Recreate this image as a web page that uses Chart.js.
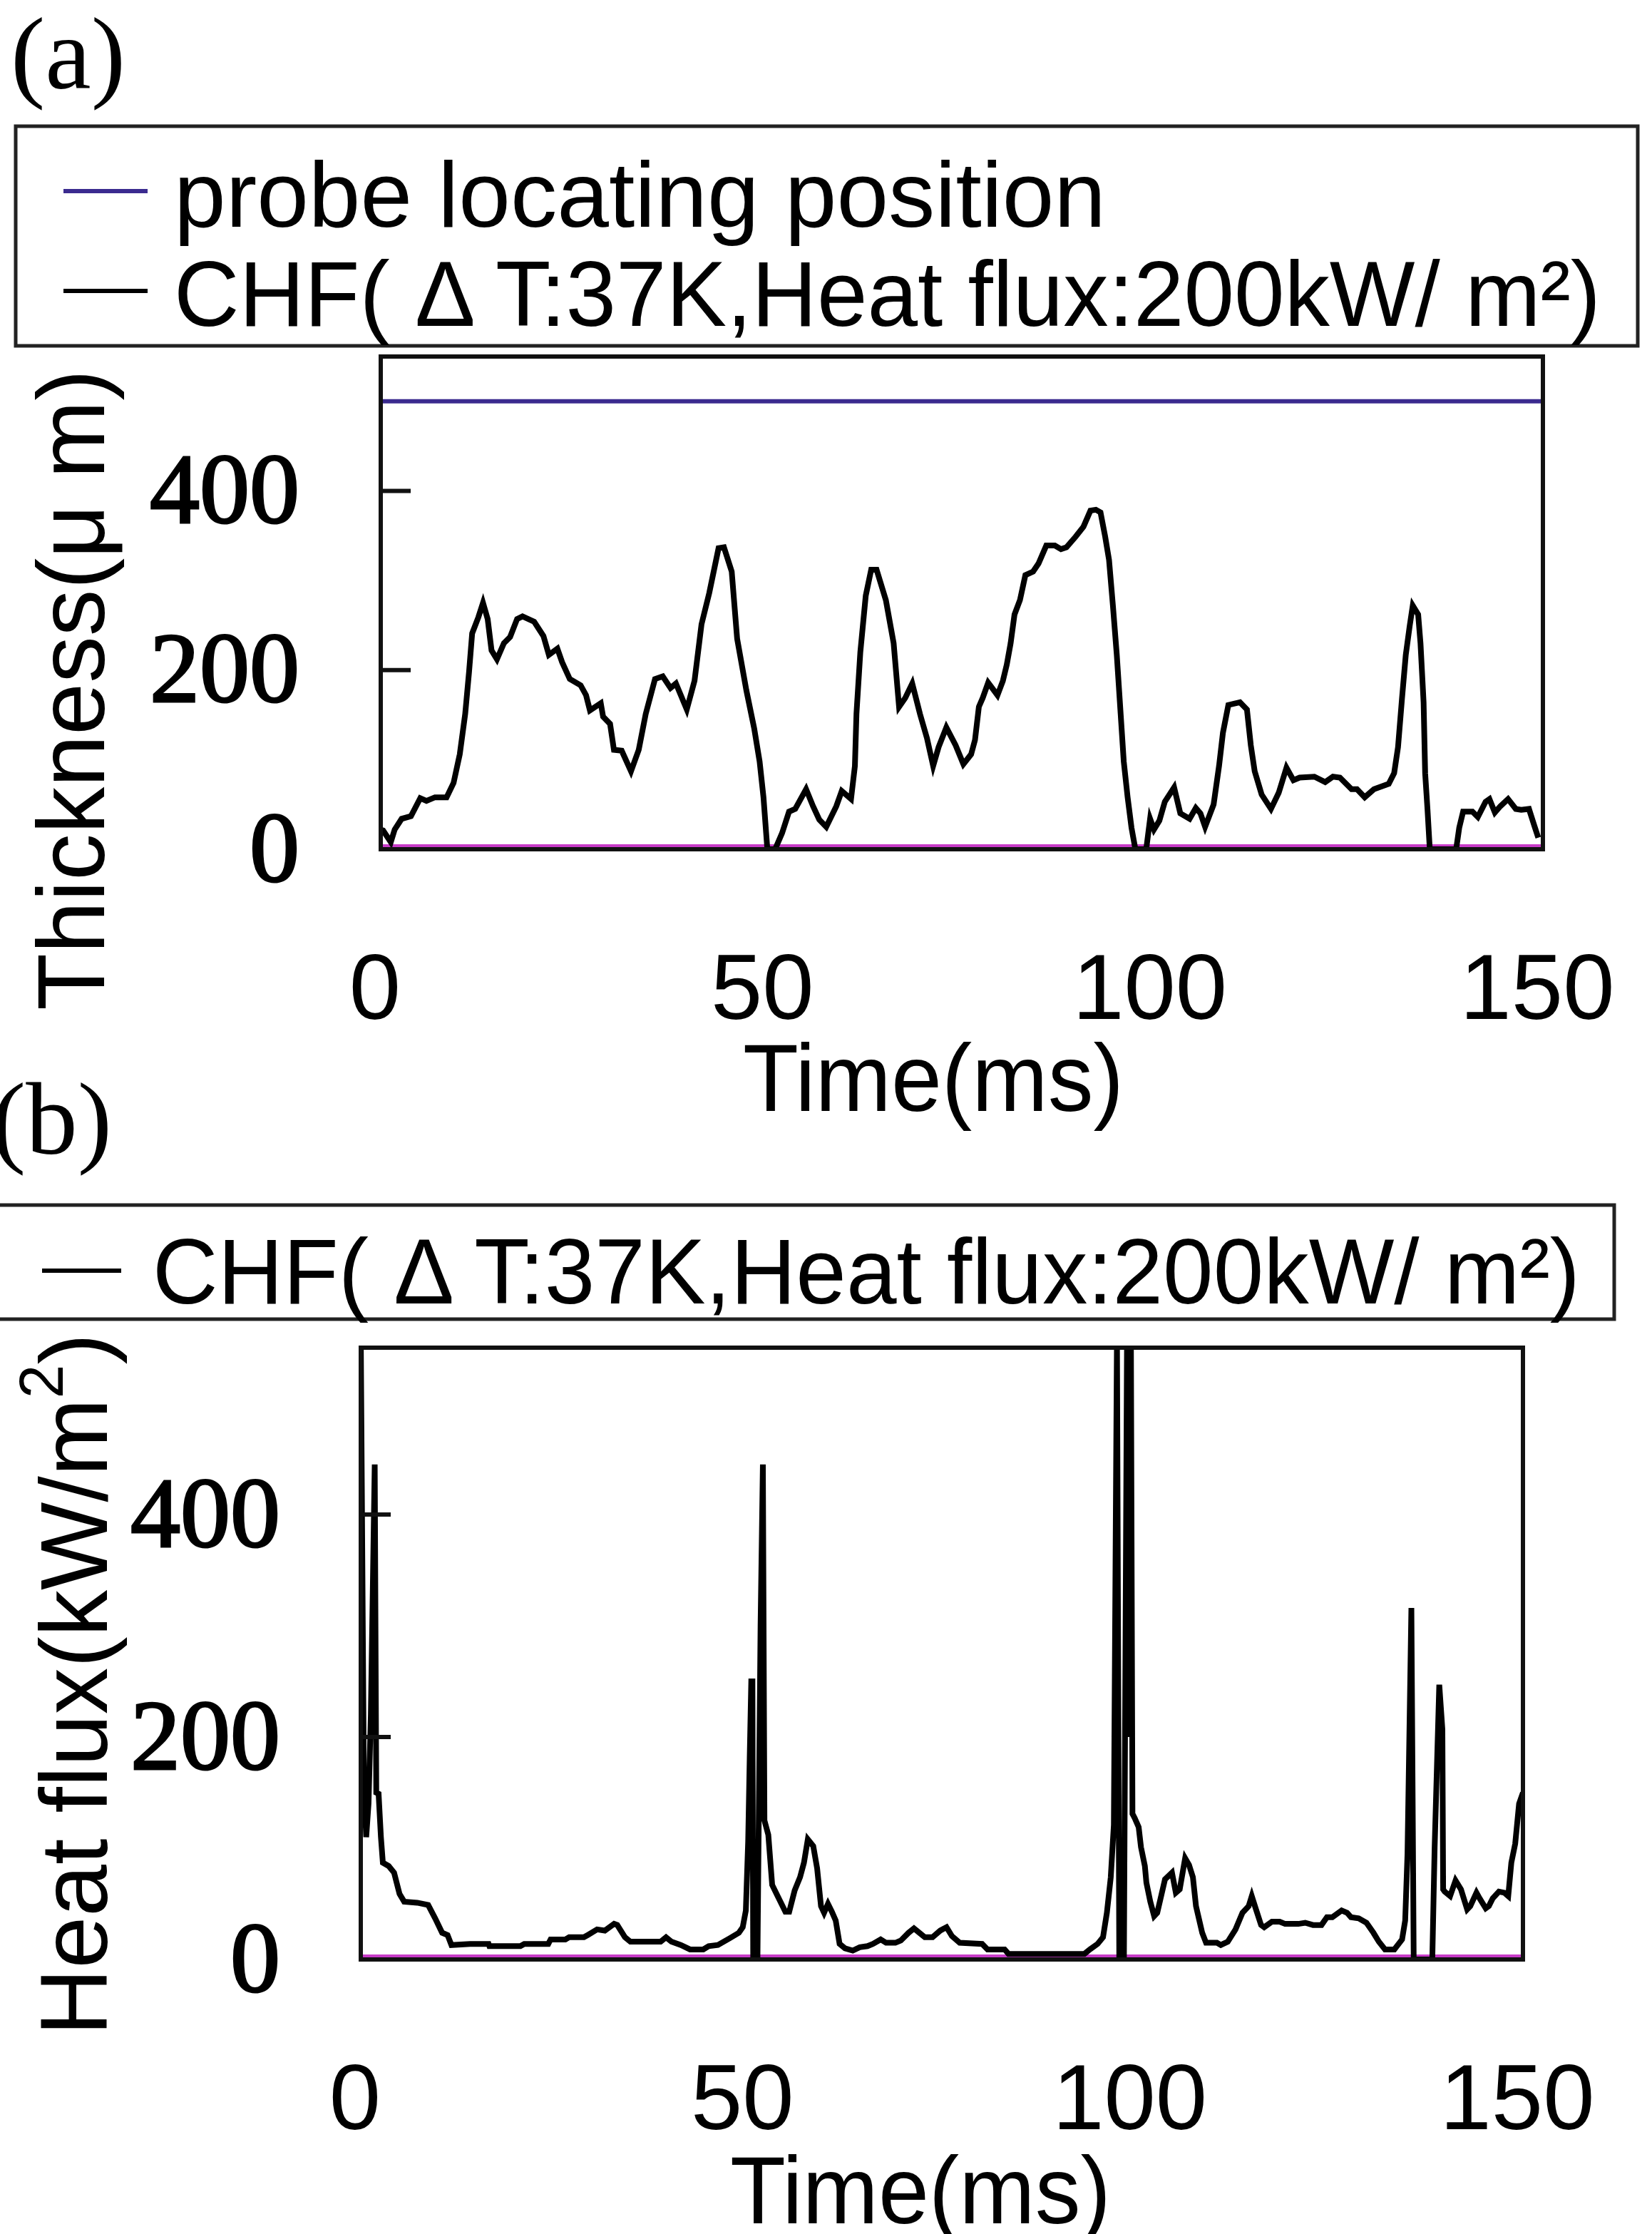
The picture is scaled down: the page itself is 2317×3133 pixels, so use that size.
<!DOCTYPE html>
<html>
<head>
<meta charset="utf-8">
<script src="https://cdn.jsdelivr.net/npm/chart.js@4.4.1/dist/chart.umd.min.js"></script>
<style>
  html, body { margin: 0; padding: 0; background: #fff; }
  body { width: 2317px; height: 3133px; position: relative; overflow: hidden; }
  canvas { position: absolute; left: 0; }
  #panelA { top: 400px; }
  #panelB { top: 1850px; }
  svg { position: absolute; left: 0; top: 0; }
  svg text { font-family: "Liberation Sans", Arial, sans-serif; fill: #000; }
  svg text.serif { font-family: "Liberation Serif", "Times New Roman", serif; }
</style>
</head>
<body>
<canvas id="panelA" width="2317" height="1100"></canvas>
<canvas id="panelB" width="2317" height="1283"></canvas>
<svg width="2317" height="3133" viewBox="0 0 2317 3133">
  <!-- panel (a) header and legend -->
  <text class="serif" x="15" y="124" font-size="145">(a)</text>
  <rect x="22" y="177" width="2275" height="308" fill="none" stroke="#222" stroke-width="5"/>
  <line x1="89" y1="268" x2="207" y2="268" stroke="#3b2b8f" stroke-width="6"/>
  <text id="legA1" x="244" y="318" font-size="130" textLength="1307" lengthAdjust="spacingAndGlyphs"></text>
  <line x1="89" y1="408" x2="207" y2="408" stroke="#000" stroke-width="6"/>
  <text id="legA2" x="244" y="457" font-size="130" textLength="2001" lengthAdjust="spacingAndGlyphs"></text>
  <!-- panel (a) axis titles -->
  <text id="yTitleA" transform="translate(146,1417) rotate(-90)" font-size="134" textLength="899" lengthAdjust="spacingAndGlyphs"></text>
  <text id="xTitleA" x="1042" y="1558" font-size="133" textLength="534" lengthAdjust="spacingAndGlyphs"></text>

  <!-- panel (b) header and legend -->
  <text class="serif" x="-12" y="1618" font-size="145">(b)</text>
  <rect x="-10" y="1690" width="2274" height="160" fill="none" stroke="#222" stroke-width="5"/>
  <line x1="59" y1="1782" x2="170" y2="1782" stroke="#000" stroke-width="6"/>
  <text id="legB1" x="214" y="1828" font-size="130" textLength="2002" lengthAdjust="spacingAndGlyphs"></text>
  <!-- panel (b) axis titles -->
  <text transform="translate(150,2855) rotate(-90)" font-size="133" textLength="985" lengthAdjust="spacingAndGlyphs">Heat flux(kW/m<tspan font-size="87" dy="-62">2</tspan><tspan dy="62">)</tspan></text>
  <text id="xTitleB" x="1024" y="3118" font-size="133" textLength="534" lengthAdjust="spacingAndGlyphs"></text>
</svg>

<script>
// ---- series: liquid film thickness (µm) against time (ms) ----
const thicknessTime = [
  0.0, 0.3, 1.3, 1.8, 2.7, 3.9, 5.1, 5.9, 7.0, 8.5, 9.4, 10.2, 10.9, 11.4, 11.8, 12.6, 13.2, 13.8,
  14.3, 15.0, 15.9, 16.7, 17.6, 18.3, 19.8, 21.0, 21.7, 22.8, 23.4, 24.4, 25.8, 26.5, 27.0, 28.4,
  28.7, 29.6, 30.1, 31.1, 32.3, 33.3, 34.2, 35.4, 36.4, 37.4, 38.1, 39.5, 40.5, 41.4, 42.4, 43.6,
  44.3, 45.3, 46.0, 47.2, 48.2, 48.9, 49.4, 49.9, 50.9, 51.8, 52.7, 53.5, 54.9, 55.8, 56.6, 57.5,
  58.8, 59.5, 60.7, 61.2, 61.4, 61.9, 62.6, 63.3, 64.0, 65.2, 66.2, 66.9, 67.7, 68.6, 69.6, 70.5,
  71.3, 72.0, 73.0, 74.2, 75.2, 76.2, 76.7, 77.2, 77.7, 78.4, 79.6, 80.3, 80.8, 81.3, 81.8, 82.5,
  83.2, 84.2, 84.9, 85.9, 87.0, 87.8, 88.5, 89.7, 90.7, 91.6, 92.3, 92.9, 93.5, 94.0, 94.5, 95.0,
  95.5, 95.9, 96.4, 96.9, 97.4, 98.8, 99.3, 99.8, 100.5, 101.2, 102.4, 103.2, 104.4, 105.2, 105.8,
  106.4, 107.5, 108.2, 108.7, 109.4, 110.9, 111.8, 112.3, 112.8, 113.7, 114.9, 115.9, 116.9, 117.8,
  118.6, 120.5, 121.9, 122.9, 123.8, 125.3, 126.0, 127.0, 128.2, 130.1, 130.8, 131.3, 131.8, 132.3,
  132.8, 133.2, 133.9, 134.2, 134.6, 134.8, 135.1, 135.4, 138.8, 139.2, 139.7, 140.9, 141.6, 142.6,
  143.1, 143.8, 144.5, 145.5, 146.5, 147.2, 148.2, 148.9, 149.4
];
const thicknessValues = [
  22, 21, 8, 22, 34, 37, 57, 54, 58, 58, 74, 106, 151, 198, 241, 259, 275, 257,
  222, 212, 230, 237, 257, 260, 254, 238, 217, 224, 209, 190, 183, 172, 155, 163,
  148, 140, 111, 110, 87, 111, 151, 190, 193, 180, 185, 156, 188, 251, 286, 336,
  337, 310, 235, 177, 135, 98, 58, 0, 0, 18, 42, 45, 67, 48, 33, 25,
  48, 65, 56, 93, 151, 220, 283, 312, 312, 278, 230, 159, 169, 185, 151, 124,
  93, 114, 136, 116, 95, 106, 122, 159, 169, 186, 172, 188, 206, 230, 262, 278,
  306, 310, 319, 339, 339, 335, 337, 349, 360, 378, 379, 376, 349, 323, 272, 217,
  151, 98, 58, 24, 0, 0, 34, 22, 32, 53, 69, 40, 34, 46, 40,
  25, 50, 93, 130, 161, 164, 156, 116, 87, 61, 45, 63, 91, 77,
  80, 81, 75, 81, 80, 67, 67, 58, 67, 73, 85, 114, 167, 217,
  249, 272, 262, 230, 164, 85, 45, 0, 0, 24, 42, 42, 36, 53,
  56, 41, 48, 56, 45, 44, 45, 26, 13
];

// ---- series: probe locating position (µm) ----
const probeTime = [0, 150];
const probeValues = [500, 500];

// ---- series: wall heat flux (kW/m²) against time (ms) ----
const fluxTime = [
  0.0, 0.4, 0.7, 1.0, 1.3, 1.8, 2.0, 2.3, 2.6, 2.85, 3.6, 4.3, 5.0, 5.6, 7.3, 8.7, 9.6, 10.5,
  11.2, 11.7, 14.1, 16.5, 16.6, 20.6, 21.1, 24.2, 24.5, 26.4, 26.9, 28.8, 29.3, 30.5, 31.5, 32.7,
  33.1, 34.1, 34.8, 38.7, 39.4, 40.1, 41.3, 42.5, 44.2, 44.9, 46.1, 47.6, 48.8, 49.3, 49.7, 50.0,
  50.2, 50.4, 50.55, 50.65, 51.2, 51.6, 51.9, 52.1, 52.6, 53.1, 53.8, 54.8, 55.3, 56.0, 56.7, 57.2,
  57.7, 58.4, 58.9, 59.4, 59.8, 60.3, 60.8, 61.3, 61.8, 62.5, 63.5, 64.4, 65.4, 66.1, 67.1, 67.8,
  69.0, 69.7, 70.7, 71.4, 72.1, 72.8, 73.8, 74.8, 75.6, 76.3, 77.3, 80.2, 80.9, 83.1, 83.6, 93.4,
  94.1, 95.1, 95.8, 96.3, 96.8, 97.2, 97.6, 97.9, 98.5, 98.9, 99.2, 99.4, 99.6, 99.9, 100.4, 100.7,
  101.2, 101.4, 101.9, 102.4, 102.8, 103.3, 103.8, 104.7, 105.2, 105.7, 106.4, 106.9, 107.4, 107.8,
  108.6, 109.1, 110.5, 111.0, 111.9, 112.9, 113.8, 114.6, 115.0, 115.5, 116.2, 116.6, 117.6, 118.6,
  119.3, 121.0, 121.9, 122.9, 124.0, 124.7, 125.4, 126.6, 127.3, 127.8, 128.8, 129.8, 130.7, 131.4,
  132.2, 133.4, 134.4, 134.8, 135.1, 135.6, 135.9, 138.3, 138.6, 139.2, 139.6, 139.7, 139.9, 140.6,
  141.3, 142.0, 142.8, 143.2, 144.0, 144.4, 145.2, 145.6, 146.1, 146.9, 147.6, 148.1, 148.5, 149.0,
  149.5, 150.0
];
const fluxValues = [
  560, 160, 110, 140, 220, 445, 150, 149, 110, 87, 84, 78, 59, 52, 51, 49, 37, 24,
  22, 13, 14, 14, 12, 12, 14, 14, 18, 18, 20, 20, 22, 27, 26, 32,
  31, 20, 16, 16, 20, 16, 13, 9, 9, 12, 13, 19, 24, 29, 44, 106,
  181, 250, 250, 0, 0, 300, 445, 125, 112, 67, 57, 43, 43, 62, 74, 87,
  108, 102, 82, 48, 42, 50, 43, 35, 14, 10, 8, 11, 12, 14, 18, 15,
  15, 17, 24, 28, 24, 20, 20, 26, 29, 21, 15, 14, 9, 9, 5, 5,
  9, 14, 20, 42, 74, 121, 560, 0, 0, 560, 200, 560, 131, 127, 119, 101,
  84, 69, 52, 39, 42, 57, 72, 78, 60, 63, 91, 85, 74, 48,
  24, 15, 15, 13, 16, 27, 42, 48, 57, 46, 31, 29, 34, 34,
  32, 32, 33, 31, 31, 38, 38, 44, 42, 38, 37, 33, 24, 16,
  9, 9, 18, 35, 95, 316, 0, 0, 100, 247, 207, 63, 61, 57,
  71, 63, 45, 48, 60, 55, 46, 48, 55, 61, 60, 57, 87, 104,
  140, 150
];

// ---- axis ticks and text ----
const timeTicks = [0, 50, 100, 150];
const thicknessTicks = [0, 200, 400];
const fluxTicks = [0, 200, 400];
const innerTickMarks = [200, 400];
const probeLabel = 'probe locating position';
const chfLabel = 'CHF( \u0394 T:37K,Heat flux:200kW/ m\u00B2)';
const thicknessTitle = 'Thickness(\u03BC m)';
const timeTitle = 'Time(ms)';

document.getElementById('legA1').textContent = probeLabel;
document.getElementById('legA2').textContent = chfLabel;
document.getElementById('legB1').textContent = chfLabel;
document.getElementById('yTitleA').textContent = thicknessTitle;
document.getElementById('xTitleA').textContent = timeTitle;
document.getElementById('xTitleB').textContent = timeTitle;

const toPoints = (xs, ys) => xs.map((x, i) => ({ x, y: ys[i] }));

// plot frame, inward tick marks on the left edge and the tinted base line
const framePlugin = {
  id: 'plotFrame',
  beforeDatasetsDraw(chart) {
    const { ctx, chartArea: a } = chart;
    ctx.save();
    ctx.strokeStyle = '#c83cc8';
    ctx.lineWidth = 4;
    ctx.beginPath();
    ctx.moveTo(a.left, a.bottom - 5);
    ctx.lineTo(a.right, a.bottom - 5);
    ctx.stroke();
    ctx.restore();
  },
  afterDatasetsDraw(chart) {
    const { ctx, chartArea: a, scales } = chart;
    ctx.save();
    ctx.strokeStyle = '#111';
    ctx.lineWidth = 6;
    ctx.strokeRect(a.left, a.top, a.right - a.left, a.bottom - a.top);
    ctx.lineWidth = 6;
    innerTickMarks.forEach(v => {
      const y = scales.y.getPixelForValue(v);
      ctx.beginPath();
      ctx.moveTo(a.left, y);
      ctx.lineTo(a.left + 42, y);
      ctx.stroke();
    });
    ctx.restore();
  }
};

function makePanel(id, datasets, yTicks, g) {
  return new Chart(document.getElementById(id), {
    type: 'line',
    data: { datasets },
    plugins: [framePlugin],
    options: {
      responsive: false,
      devicePixelRatio: 1,
      animation: false,
      events: [],
      layout: { padding: { left: 0, top: g.top, right: g.right, bottom: 0 } },
      plugins: { legend: { display: false }, tooltip: { enabled: false } },
      elements: { point: { radius: 0 }, line: { tension: 0, borderWidth: 8 } },
      scales: {
        x: {
          type: 'linear',
          min: 0,
          max: 150,
          grid: { display: false, drawTicks: false },
          border: { display: false },
          afterBuildTicks: s => { s.ticks = timeTicks.map(v => ({ value: v })); },
          afterFit: s => { s.height = g.xHeight; s.paddingLeft = 0; s.paddingRight = 0; },
          ticks: {
            padding: 124,
            labelOffset: -8,
            maxRotation: 0,
            autoSkip: false,
            color: '#000',
            font: { family: '"Liberation Sans", Arial, sans-serif', size: 130 }
          }
        },
        y: {
          type: 'linear',
          min: 0,
          max: 550,
          grid: { display: false, drawTicks: false },
          border: { display: false },
          afterBuildTicks: s => { s.ticks = yTicks.map(v => ({ value: v })); },
          afterFit: s => { s.width = g.yWidth; s.paddingTop = 0; s.paddingBottom = 0; },
          ticks: {
            padding: g.yPad,
            labelOffset: 8,
            color: '#000',
            textStrokeColor: '#000',
            textStrokeWidth: 3,
            font: { family: '"Liberation Serif", "Times New Roman", serif', size: 140 }
          }
        }
      }
    }
  });
}

makePanel('panelA', [
  { label: probeLabel, data: toPoints(probeTime, probeValues), borderColor: '#3b2b8f', borderWidth: 6, fill: false },
  { label: 'CHF', data: toPoints(thicknessTime, thicknessValues), borderColor: '#000', borderWidth: 8, fill: false }
], thicknessTicks, { top: 100, right: 153, yWidth: 534, xHeight: 309, yPad: 114 });

makePanel('panelB', [
  { label: 'CHF', data: toPoints(fluxTime, fluxValues), borderColor: '#000', borderWidth: 8, fill: false }
], fluxTicks, { top: 40, right: 181, yWidth: 506, xHeight: 385, yPad: 113 });
</script>
</body>
</html>
